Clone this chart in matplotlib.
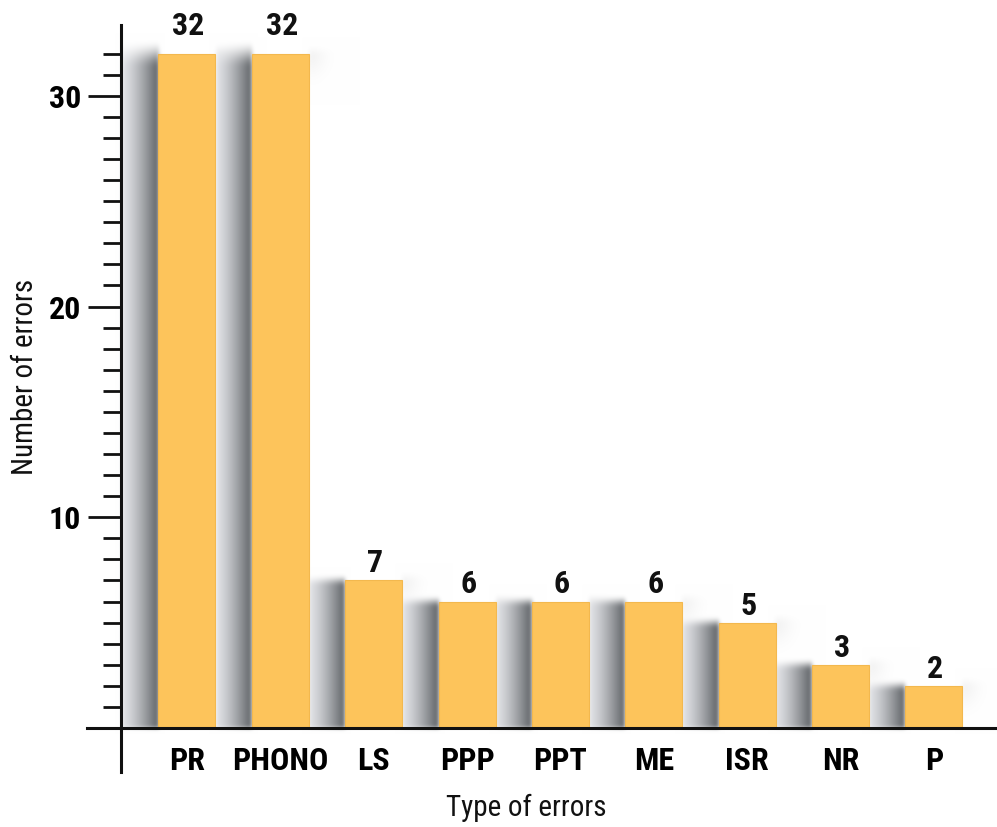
import numpy as np
import matplotlib
matplotlib.use("Agg")
import matplotlib.pyplot as plt
from matplotlib import font_manager

# Error categories and counts
categories = ["PR", "PHONO", "LS", "PPP", "PPT", "ME", "ISR", "NR", "P"]
counts = [32, 32, 7, 6, 6, 6, 5, 3, 2]

y_major = [10, 20, 30]
y_minor = list(range(1, 33))

names = {f.name for f in font_manager.fontManager.ttflist}
condensed = ["Liberation Sans Narrow", "Arial Narrow", "Roboto Condensed",
             "Open Sans Condensed", "DejaVu Sans Condensed"]
font = next((n for n in condensed if n in names), "Liberation Sans")
is_narrow = font != "Liberation Sans"
plt.rcParams["font.family"] = [font, "DejaVu Sans"]
fs_bold = 23 if is_narrow else 19
fs_reg = 21 if is_narrow else 19.5

W_PX, H_PX = 997, 827
fig = plt.figure(figsize=(W_PX / 100, H_PX / 100), dpi=100)

# axes box in pixels (left, top, right, bottom)
ax_l, ax_t, ax_r, ax_b = 87, 25, 997, 772
ax = fig.add_axes([ax_l / W_PX, 1 - ax_b / H_PX, (ax_r - ax_l) / W_PX, (ax_b - ax_t) / H_PX])

x0, x1 = -1.07, 8.675
y0, y1 = -2.09, 33.36
ax.set_xlim(x0, x1)
ax.set_ylim(y0, y1)

bar_w = 0.61
bar_color = "#FDC45B"
x = np.arange(len(categories))

# ---- soft drop shadows to the left of every bar ----
AW, AH = ax_r - ax_l, ax_b - ax_t
gx = np.linspace(x0, x1, AW)
gy = np.linspace(y1, y0, AH)
X, Y = np.meshgrid(gx, gy)
px_x = AW / (x1 - x0)
px_y = AH / (y1 - y0)

rgb = np.ones((AH, AW, 3))
light = np.array([0.885, 0.89, 0.905])
dark = np.array([0.36, 0.375, 0.39])
gap = 1 - bar_w


def smooth(z):
    z = np.clip(z, 0, 1)
    return z * z * (3 - 2 * z)


for xi, v in zip(x, counts):
    left = xi - bar_w / 2
    right = xi + bar_w / 2
    # faint haze at the top right of the bar
    dx = (X - right) * px_x
    dy = (v - Y) * px_y
    near = (dx >= 0) & (dx < 45) & (dy > -12) & (dy < 45) & (Y >= 0)
    haze = 0.12 * np.exp(-(np.clip(dx, 0, None) / 16) ** 2) \
        * np.exp(-(np.clip(dy, 0, None) / 20) ** 2) * smooth((dy + 10) / 12)
    haze = np.where(near, haze, 0.0)
    rgb = rgb * (1 - haze[..., None]) + 0.6 * haze[..., None]
    # gradient strip filling the gap on the left
    t = (X - (left - gap)) / gap
    inside = (t >= 0) & (t <= 1) & (Y >= 0)
    fade = (14 if v > 20 else 6) / px_y
    a_top = smooth((v + fade - Y) / (2 * fade))
    a = np.where(inside, a_top, 0.0)
    prof = np.clip(t, 0, 1) ** 1.35
    col = light[None, None, :] * (1 - prof[..., None]) + dark[None, None, :] * prof[..., None]
    rgb = rgb * (1 - a[..., None]) + col * a[..., None]


def blur(img, sigma):
    r = int(3 * sigma)
    k = np.exp(-0.5 * (np.arange(-r, r + 1) / sigma) ** 2)
    k /= k.sum()
    pad = np.pad(img, ((r, r), (0, 0), (0, 0)), mode="edge")
    out = sum(k[i] * pad[i:i + img.shape[0]] for i in range(2 * r + 1))
    pad = np.pad(out, ((0, 0), (r, r), (0, 0)), mode="edge")
    out = sum(k[i] * pad[:, i:i + img.shape[1]] for i in range(2 * r + 1))
    return out


rgb = np.clip(blur(rgb, 2.0), 0, 1)
ax.imshow(rgb, extent=(x0, x1, y0, y1), aspect="auto", zorder=0, interpolation="bilinear")

ax.bar(x, counts, width=bar_w, color=bar_color, edgecolor="#F3B84E", linewidth=0.8, zorder=2)

label_offsets = [9 if v > 20 else 1.5 for v in counts]
for xi, v, off in zip(x, counts, label_offsets):
    ax.annotate(str(v), (xi, v), xytext=(1, off), textcoords="offset points",
                ha="center", va="bottom", fontsize=fs_bold, fontweight="bold",
                color="#111111", zorder=3)

# axes lines crossing near the origin
for s in ("top", "right"):
    ax.spines[s].set_visible(False)
ax.spines["left"].set_position(("data", -0.71))
ax.spines["bottom"].set_position(("data", 0))
for s in ("left", "bottom"):
    ax.spines[s].set_linewidth(2.2)
    ax.spines[s].set_color("#111111")
    ax.spines[s].set_zorder(4)

ax.set_yticks(y_major)
ax.set_yticklabels([str(v) for v in y_major], fontsize=fs_bold, fontweight="bold")
ax.set_yticks(y_minor, minor=True)
ax.tick_params(axis="y", which="major", direction="out", length=23.5, width=2,
               pad=5, color="#111111")
ax.tick_params(axis="y", which="minor", direction="out", length=13, width=2, color="#111111")

ax.set_xticks(x)
ax.set_xticklabels(categories, fontsize=fs_bold, fontweight="bold")
ax.tick_params(axis="x", which="both", length=0, pad=13)

fig.text(526 / W_PX, 1 - 808 / H_PX, "Type of errors", ha="center", va="center",
         fontsize=fs_reg, color="#111111")
fig.text(25 / W_PX, 1 - 377 / H_PX, "Number of errors", ha="center", va="center",
         rotation=90, fontsize=fs_reg, color="#111111")

fig.savefig("out.png", dpi=100)
